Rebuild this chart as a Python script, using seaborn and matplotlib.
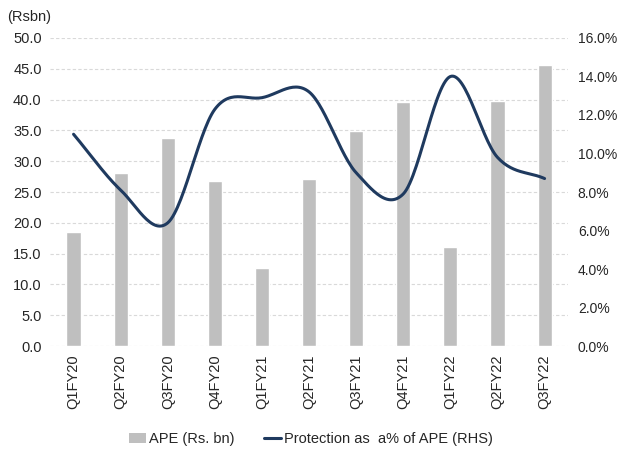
import numpy as np
import pandas as pd
import matplotlib
matplotlib.use("Agg")
import matplotlib.pyplot as plt
import seaborn as sns
from matplotlib.ticker import FuncFormatter, MultipleLocator
from matplotlib.lines import Line2D
from matplotlib.patches import Patch

quarters = ["Q1FY20", "Q2FY20", "Q3FY20", "Q4FY20", "Q1FY21", "Q2FY21",
            "Q3FY21", "Q4FY21", "Q1FY22", "Q2FY22", "Q3FY22"]
ape = [18.5, 28.1, 33.8, 26.8, 12.7, 27.1, 34.9, 39.6, 16.1, 39.8, 45.6]
protection_pct = [11.0, 8.1, 6.4, 12.3, 12.9, 13.2, 9.0, 7.9, 14.0, 9.8, 8.7]

sns.set_theme(style="white")
plt.rcParams["font.family"] = ["Liberation Sans", "DejaVu Sans"]
text_color = "#262626"
fs = 10.5

fig = plt.figure(figsize=(6.22, 4.5), dpi=100)
ax = fig.add_axes([0.0804, 0.231, 0.833, 0.6846])

df = pd.DataFrame({"quarter": quarters, "ape": ape})
sns.barplot(data=df, x="quarter", y="ape", color="#BFBFBF", saturation=1,
            width=0.3, ax=ax, zorder=2)

ax.set_ylim(0, 50)
ax.yaxis.set_major_locator(MultipleLocator(5))
ax.yaxis.set_major_formatter(FuncFormatter(lambda v, _: f"{v:.1f}"))
ax.set_xlim(-0.5, len(quarters) - 0.5)
ax.grid(axis="y", color="#D9D9D9", linestyle=(0, (3, 2)), linewidth=0.8, zorder=0)
ax.set_axisbelow(True)
for s in ax.spines.values():
    s.set_visible(False)
ax.set_xlabel("")
ax.set_ylabel("")
ax.tick_params(axis="y", labelsize=fs, colors=text_color, length=0, pad=6)
ax.tick_params(axis="x", labelsize=fs, colors=text_color, length=0, pad=6)
plt.setp(ax.get_xticklabels(), rotation=90)

# Smoothed percentage line on the secondary axis (Catmull-Rom through each quarter)
ax2 = ax.twinx()
x = np.arange(len(quarters), dtype=float)
y = np.array(protection_pct, dtype=float)
px = np.concatenate([[2 * x[0] - x[1]], x, [2 * x[-1] - x[-2]]])
py = np.concatenate([[2 * y[0] - y[1]], y, [2 * y[-1] - y[-2]]])
sx, sy = [], []
t = np.linspace(0, 1, 30)
for i in range(1, len(px) - 2):
    def cr(a0, a1, a2, a3):
        return 0.5 * ((2 * a1) + (-a0 + a2) * t + (2 * a0 - 5 * a1 + 4 * a2 - a3) * t ** 2
                      + (-a0 + 3 * a1 - 3 * a2 + a3) * t ** 3)
    sx.extend(cr(px[i - 1], px[i], px[i + 1], px[i + 2]))
    sy.extend(cr(py[i - 1], py[i], py[i + 1], py[i + 2]))
line_df = pd.DataFrame({"x": sx, "y": sy})
sns.lineplot(data=line_df, x="x", y="y", sort=False, color="#1F3A5F",
             linewidth=2.2, ax=ax2, zorder=3)
ax2.set_ylim(0, 16)
ax2.yaxis.set_major_locator(MultipleLocator(2))
ax2.yaxis.set_major_formatter(FuncFormatter(lambda v, _: f"{v:.1f}%"))
for s in ax2.spines.values():
    s.set_visible(False)
ax2.set_ylabel("")
ax2.set_xlabel("")
ax2.grid(False)
ax2.tick_params(axis="y", labelsize=10, colors=text_color, length=0, pad=7)
ax2.set_xlim(-0.5, len(quarters) - 0.5)

fig.text(0.011, 0.962, "(Rsbn)", fontsize=fs, color=text_color, ha="left", va="center")

handles = [Patch(facecolor="#BFBFBF", edgecolor="none"),
           Line2D([0], [0], color="#1F3A5F", linewidth=2.2)]
fig.legend(handles, ["APE (Rs. bn)", "Protection as  a% of APE (RHS)"],
           loc="center", bbox_to_anchor=(0.5, 0.025), ncol=2, frameon=False,
           fontsize=fs, labelcolor=text_color, handlelength=1.2, handletextpad=0.2,
           columnspacing=2.0)

fig.savefig("out.png", dpi=100)
